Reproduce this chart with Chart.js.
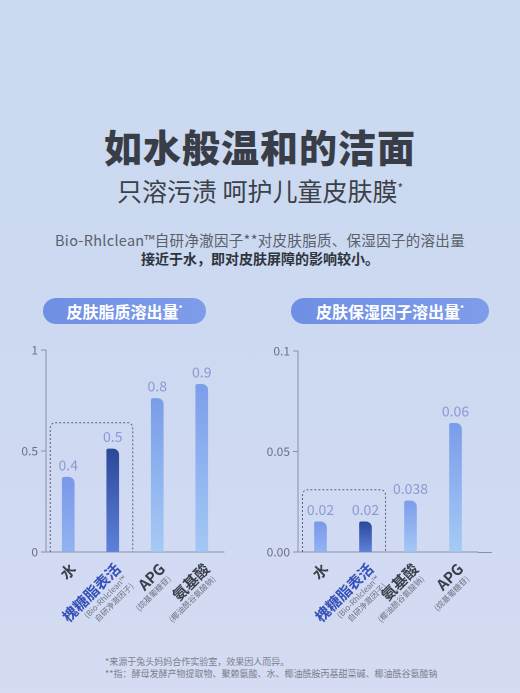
<!DOCTYPE html>
<html><head><meta charset="utf-8">
<script src="https://cdn.jsdelivr.net/npm/chart.js@4/dist/chart.umd.min.js"></script>
<style>
html,body{margin:0;padding:0;}
body{width:520px;height:693px;position:relative;overflow:hidden;
 background:linear-gradient(180deg,#cbdaf0 0%,#ccd9f1 50%,#d4dbf3 100%);
 font-family:"Noto Sans CJK SC","Noto Sans",sans-serif;}
.t{position:absolute;left:0;width:520px;text-align:center;white-space:nowrap;}
#h1{top:122px;font-size:38px;font-weight:900;color:#383d47;letter-spacing:1px;line-height:48px;}
#h2{top:174px;font-size:25px;font-weight:400;color:#3b4049;line-height:32px;}
#h2 sup{font-size:12px;vertical-align:top;position:relative;top:-2px;}
#l1{top:230px;font-size:14.5px;color:#5a606b;line-height:20px;letter-spacing:0.3px;}
#l2{top:248px;font-size:14px;font-weight:700;color:#2f343d;line-height:20px;}
.pill{position:absolute;top:298px;height:26px;border-radius:13px;
 background:linear-gradient(90deg,#6f8fe4,#7f9ce9);color:#fff;font-weight:700;font-size:16px;
 line-height:26px;text-align:center;}
.pill sup{font-size:8px;vertical-align:top;position:relative;top:-3px;}
.cv{position:absolute;top:330px;width:260px;height:310px;}
#fn{position:absolute;left:105px;top:656px;font-size:9px;color:#7b808c;line-height:12px;}
</style></head>
<body>
<div class="t" id="h1">如水般温和的洁面</div>
<div class="t" id="h2">只溶污渍 呵护儿童皮肤膜<sup>*</sup></div>
<div class="t" id="l1">Bio-Rhlclean™自研净澈因子**对皮肤脂质、保湿因子的溶出量</div>
<div class="t" id="l2">接近于水，即对皮肤屏障的影响较小。</div>
<div class="pill" style="left:43px;width:163px;">皮肤脂质溶出量<sup>*</sup></div>
<div class="pill" style="left:291px;width:198px;">皮肤保湿因子溶出量<sup>*</sup></div>
<div class="cv" style="left:0"><canvas id="c1" width="260" height="310"></canvas></div>
<div class="cv" style="left:260px"><canvas id="c2" width="260" height="310"></canvas></div>
<div id="fn">*来源于兔头妈妈合作实验室，效果因人而异。<br>**指：酵母发酵产物提取物、聚赖氨酸、水、椰油酰胺丙基甜菜碱、椰油酰谷氨酸钠</div>
<script>
// ---- data ----
const lipidCategories = ['水', '槐糖脂表活', 'APG', '氨基酸'];
const lipidSubLabels = [[], ['(Bio-Rhlclean™', '自研净澈因子)'], ['(烷基葡糖苷)'], ['(椰油酰谷氨酸钠)']];
const lipidValues = [0.37, 0.51, 0.76, 0.83];
const lipidValueLabels = ['0.4', '0.5', '0.8', '0.9'];
const lipidTicks = [0, 0.5, 1];
const lipidTickLabels = ['0', '0.5', '1'];

const moistCategories = ['水', '槐糖脂表活', '氨基酸', 'APG'];
const moistSubLabels = [[], ['(Bio-Rhlclean™', '自研净澈因子)'], ['(椰油酰谷氨酸钠)'], ['(烷基葡糖苷)']];
const moistValues = [0.015, 0.015, 0.0254, 0.064];
const moistValueLabels = ['0.02', '0.02', '0.038', '0.06'];
const moistTicks = [0, 0.05, 0.1];
const moistTickLabels = ['0.00', '0.05', '0.1'];

const lipidBoxTop = 0.64;
const moistBoxTop = 0.031;

// ---- colours (style) ----
const gradStops = {
  '水': ['#7b98ea', '#94b3f2'],
  '槐糖脂表活': ['#2c4899', '#5f82dc'],
  'APG': ['#7a9de9', '#a6cbf6'],
  '氨基酸': ['#7e9eeb', '#a4c8f5']
};
const FONT = '"Noto Sans CJK SC","Noto Sans",sans-serif';

function barColor(ctx){
  const ch = ctx.chart, a = ch.chartArea;
  const c = ch.data.labels[ctx.dataIndex];
  const stops = gradStops[c] || ['#7b98ea', '#94b3f2'];
  if(!a || ctx.raw === undefined) return stops[0];
  const y0 = ch.scales.y.getPixelForValue(ctx.raw);
  const g = ch.ctx.createLinearGradient(0, y0, 0, a.bottom);
  g.addColorStop(0, stops[0]);
  g.addColorStop(1, stops[1]);
  return g;
}

const decoPlugin = {
  id: 'deco',
  afterDatasetsDraw(chart, args, opts){
    const ctx = chart.ctx, xs = chart.scales.x, ys = chart.scales.y, a = chart.chartArea;
    const vals = chart.data.datasets[0].data;
    ctx.save();
    // value labels
    ctx.fillStyle = '#8b98d2';
    ctx.font = '400 14px ' + FONT;
    ctx.textAlign = 'center'; ctx.textBaseline = 'alphabetic';
    opts.valueLabels.forEach((s, i) => {
      ctx.fillText(s, xs.getPixelForValue(i), ys.getPixelForValue(vals[i]) - 7);
    });
    // dashed box
    const x0 = xs.getPixelForValue(0) - 18, x1 = xs.getPixelForValue(1) + 20;
    const yt = ys.getPixelForValue(opts.boxTop), yb = a.bottom;
    ctx.strokeStyle = '#5d6275'; ctx.lineWidth = 1; ctx.setLineDash([2, 2]);
    ctx.beginPath();
    const r = 5;
    ctx.moveTo(x0, yb); ctx.lineTo(x0, yt + r); ctx.arcTo(x0, yt, x0 + r, yt, r);
    ctx.lineTo(x1 - r, yt); ctx.arcTo(x1, yt, x1, yt + r, r); ctx.lineTo(x1, yb);
    ctx.stroke();
    ctx.setLineDash([]);
    // axis extension
    if(opts.extend){
      ctx.strokeStyle = '#8c91a0'; ctx.lineWidth = 1;
      ctx.beginPath(); ctx.moveTo(a.right, a.bottom + 0.5); ctx.lineTo(a.right + opts.extend, a.bottom + 0.5); ctx.stroke();
    }
    // category labels rotated
    chart.data.labels.forEach((lab, i) => {
      const cx = xs.getPixelForValue(i) + 5, cy = a.bottom + 14;
      ctx.save();
      ctx.translate(cx, cy);
      ctx.rotate(-Math.PI/4);
      ctx.textAlign = 'right'; ctx.textBaseline = 'middle';
      ctx.font = '700 15px ' + FONT;
      ctx.fillStyle = lab === '槐糖脂表活' ? '#3550b8' : '#3a3e48';
      ctx.fillText(lab, 0, 0);
      ctx.font = '400 8px ' + FONT;
      ctx.fillStyle = '#6f7482';
      opts.sub[i].forEach((s, k) => ctx.fillText(s, -3, 13 + k*10));
      ctx.restore();
    });
    ctx.restore();
  }
};

function makeChart(id, cats, vals, ticks, tickLabels, max, padding, yWidth, valueLabels, sub, boxTop, extend){
  new Chart(document.getElementById(id), {
    type: 'bar',
    data: { labels: cats, datasets: [{
      data: vals,
      backgroundColor: barColor,
      barThickness: 12,
      borderRadius: {topLeft: 2, topRight: 6, bottomLeft: 0, bottomRight: 0},
      borderSkipped: 'bottom'
    }]},
    options: {
      responsive: false, animation: false, devicePixelRatio: 2,
      layout: { padding: padding },
      plugins: { legend: {display: false}, tooltip: {enabled: false},
        deco: { valueLabels, sub, boxTop, extend } },
      scales: {
        x: {
          grid: {display: false},
          border: {display: true, color: '#8c91a0', width: 1},
          ticks: {display: false},
          afterFit(s){ s.height = 88; }
        },
        y: {
          min: 0, max: max,
          afterBuildTicks(s){ s.ticks = ticks.map(v => ({value: v})); },
          afterFit(s){ s.width = yWidth; },
          grid: {drawOnChartArea: false, drawTicks: true, tickLength: 5, color: '#8c91a0'},
          border: {display: true, color: '#8c91a0', width: 1},
          ticks: {
            padding: 3, color: '#6b7080', font: {size: 12, family: FONT},
            callback(v){ const k = ticks.indexOf(v); return k >= 0 ? tickLabels[k] : ''; }
          }
        }
      }
    },
    plugins: [decoPlugin]
  });
}

makeChart('c1', lipidCategories, lipidValues, lipidTicks, lipidTickLabels, 1,
  {left: 10, right: 36, top: 20, bottom: 0}, 36, lipidValueLabels, lipidSubLabels, lipidBoxTop, 0);
makeChart('c2', moistCategories, moistValues, moistTicks, moistTickLabels, 0.1,
  {left: 4, right: 42, top: 21, bottom: 0}, 34, moistValueLabels, moistSubLabels, moistBoxTop, 14);
</script>
</body></html>
